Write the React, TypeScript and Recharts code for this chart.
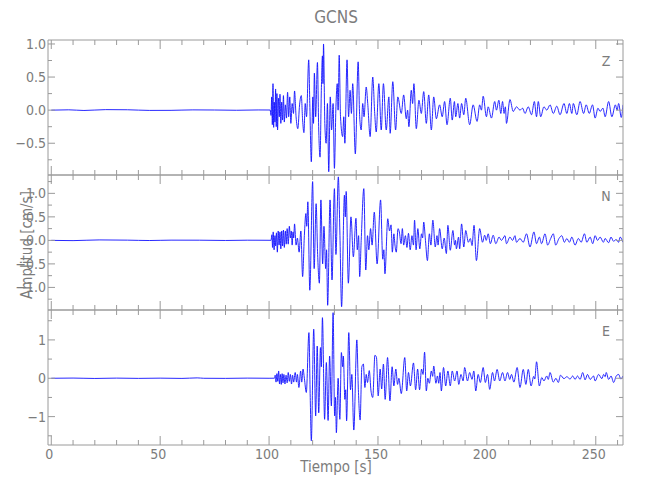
import { LineChart, Line, XAxis, YAxis } from 'recharts';

const AXIS = '#9a9a9a';
const TEXT = '#7c7c7c';
const TRACE = '#1010ff';
const FONT = "'Liberation Sans Narrow', 'DejaVu Sans Condensed', 'Liberation Sans', sans-serif";

// time axis, seconds
const timeDomain: [number, number] = [-1.5, 262.5];
const timeTicks = [0, 10, 20, 30, 40, 50, 60, 70, 80, 90, 100, 110, 120, 130, 140, 150, 160, 170, 180, 190, 200, 210, 220, 230, 240, 250, 260];

// amplitude ticks per component
const zTicks = [-0.75, -0.5, -0.25, 0, 0.25, 0.5, 0.75, 1.0];
const nTicks = [-1.25, -1.0, -0.75, -0.5, -0.25, 0, 0.25, 0.5, 0.75, 1.0, 1.25];
const eTicks = [-1.5, -1.0, -0.5, 0, 0.5, 1.0, 1.5];

// [tiempo s, amplitud cm/s]
const zTrace: [number, number][] = [
  [0, 0], [8, 0.005], [15, -0.005], [25, 0.008], [35, 0.006], [45, -0.004], [55, -0.003], [65, 0.004], [75, 0.002], [85, -0.002], [95, 0.003], [100.5, 0.002],
  [100.9, -0.08], [101.2, 0.2], [101.5, -0.22], [101.8, 0.4], [102.1, -0.26], [102.4, 0.12], [102.7, -0.18], [103.0, 0.32], [103.3, -0.25], [103.6, 0.25], [103.9, -0.3], [104.3, 0.18], [104.7, -0.1], [105.0, 0.24], [105.4, -0.2], [105.8, 0.12], [106.2, -0.15], [106.6, 0.22], [107.0, -0.18], [107.5, 0.08], [108.0, -0.12], [108.5, 0.27], [109.0, -0.1], [109.5, 0.2], [110.0, -0.2], [110.6, 0.1], [111.2, -0.05], [111.7, 0.29], [112.4, -0.1], [113.2, -0.28], [114.0, 0.08], [114.8, 0.22], [115.4, -0.15], [116.0, -0.34], [116.6, 0.1], [117.2, -0.1],
  [118.2, 0.76], [118.7, 0.1], [119.4, -0.78], [120.1, 0.2], [120.4, -0.2], [120.8, 0.56], [121.4, -0.1], [122.2, 0.72], [122.8, -0.3], [123.4, -0.71], [124.0, 0.3], [124.5, 0.82], [124.75, 0.4], [125.0, 1.0], [125.6, -0.2], [126.2, -0.5], [126.8, 0.1], [127.4, -0.93], [128.1, 0.2], [128.7, -0.3], [129.4, 0.1], [130.0, -0.88], [130.7, 0.05], [131.3, 0.4], [131.7, 0.0], [132.2, 0.83], [132.8, -0.1], [133.8, -0.4], [134.3, -0.1], [134.8, -0.5], [135.8, 0.76], [136.5, -0.1], [137.2, 0.3], [137.8, -0.05], [138.4, 0.4], [139.6, -0.66], [140.9, 0.73], [141.6, -0.1], [142.3, -0.3], [143.0, 0.1], [143.6, -0.1], [144.6, 0.35], [145.3, 0.1], [146.4, -0.4], [147.6, 0.5], [148.5, -0.05], [149.2, -0.33], [150.4, 0.4], [151.5, -0.3], [152.5, 0.4], [153.8, -0.3], [155.0, 0.2], [155.6, -0.35], [156.8, 0.43], [158.1, -0.3], [159.1, 0.2], [160.7, -0.05], [161.8, 0.23], [163.0, -0.13], [163.6, 0.0], [164.2, -0.25], [165.3, 0.3], [165.9, 0.1], [166.5, 0.4], [167.6, -0.28], [168.8, 0.15], [169.9, -0.05], [171.0, 0.28], [172.2, -0.2], [173.3, 0.23], [174.5, -0.3], [175.6, 0.2], [176.8, -0.13],
  [178.3, 0.08], [179.5, -0.1], [180.6, 0.13], [181.7, -0.22], [183.2, 0.18], [184.1, -0.15], [185.1, 0.13], [185.7, -0.1], [186.7, 0.1], [187.5, -0.12], [188.4, 0.1], [189.4, -0.07], [190.3, 0.18], [192.1, -0.22], [193.7, 0.08], [195.5, -0.17], [196.7, 0.08], [197.5, 0.0], [198.3, 0.21], [199.8, -0.1], [200.6, 0.05], [202.1, -0.12], [203.6, 0.13], [204.4, 0.0], [205.5, 0.15], [206.4, -0.05], [207.2, 0.13], [207.9, -0.05], [208.5, 0.05], [209.0, -0.2], [210.6, 0.16], [212.1, -0.02], [213.6, 0.05], [215.2, 0.0], [216.4, 0.03], [217.5, -0.05], [219.0, 0.05], [220.5, -0.07], [221.8, 0.13], [222.8, -0.1], [223.6, 0.13], [224.7, -0.1], [226.2, 0.05], [227.5, 0.0], [229.0, 0.08], [230.5, -0.05], [232.1, 0.06], [233.6, -0.07], [235.4, 0.1], [236.7, -0.05], [237.9, 0.1], [239.0, -0.05], [239.7, 0.1], [241.3, -0.07], [242.8, 0.13], [244.4, -0.05], [245.6, 0.08], [247.0, -0.05], [248.5, 0.08], [249.7, -0.12], [251.0, 0.03], [252.0, -0.02], [253.3, 0.03], [254.3, -0.1], [255.9, 0.13], [257.4, -0.1], [259.0, 0.08], [259.8, 0.0], [260.5, 0.1], [261.7, -0.11], [262.5, 0.08],
];

const nTrace: [number, number][] = [
  [0, 0], [10, -0.005], [22, 0.01], [35, 0.005], [45, -0.003], [55, 0.005], [68, 0.004], [80, -0.002], [90, 0.004], [100.5, 0.002],
  [100.9, 0.0], [101.3, 0.12], [101.6, -0.15], [101.9, 0.18], [102.3, -0.2], [102.7, 0.1], [103.0, -0.12], [103.4, 0.16], [103.8, -0.25], [104.2, 0.2], [104.6, -0.1], [105.0, 0.18], [105.4, -0.18], [105.8, 0.2], [106.2, -0.12], [106.6, 0.22], [107.0, -0.15], [107.5, 0.2], [107.9, -0.08], [108.3, 0.25], [108.8, -0.08], [109.3, 0.3], [109.8, 0.05], [110.2, 0.2], [110.6, -0.1], [111.0, 0.18], [111.3, 0.05], [111.7, 0.35], [112.4, -0.1], [113.0, 0.05], [113.8, -0.25], [114.6, 0.2],
  [115.4, -0.77], [116.2, 0.1], [116.9, 0.57], [117.3, 0.3], [117.8, 0.82], [118.7, -1.06], [120.0, 1.25], [120.7, -0.6], [121.6, 0.78], [122.3, -0.3], [123.1, -0.91], [123.8, 0.86], [124.6, -0.5], [125.2, 0.3], [126.0, -0.6], [126.4, -0.2], [126.9, -1.38], [128.0, 0.86], [128.9, -0.84], [130.0, 1.1], [130.7, -0.3], [131.8, 1.35], [132.5, 0.2], [133.3, -1.41], [134.6, 0.96], [135.0, 0.5], [135.4, 1.04], [136.4, -0.91], [137.6, 0.5], [138.7, -0.35], [139.9, 0.47], [140.5, -0.2], [141.1, 0.1], [141.6, -0.77], [142.3, 0.0], [143.5, 1.1], [144.4, -0.63], [145.2, 0.1], [145.8, -0.2], [146.6, 0.25], [147.3, -0.1], [148.3, 0.6], [149.6, -0.5], [151.2, 0.86], [152.2, -0.4], [152.7, -0.2], [153.2, -0.71], [154.5, 0.46], [155.3, 0.2], [156.0, 0.33], [156.6, -0.25], [157.3, 0.14], [157.8, -0.1], [158.4, -0.25], [159.2, 0.25], [159.8, 0.18], [160.6, -0.07], [161.2, 0.25], [161.8, -0.1], [162.6, 0.1], [163.3, -0.15], [164.0, 0.15], [164.8, -0.2], [165.6, 0.1], [166.3, -0.1], [166.8, 0.43], [167.5, -0.2], [168.3, 0.25], [169.2, -0.18], [170.0, 0.14], [170.5, 0.05], [171.0, 0.39], [171.8, 0.0], [172.7, -0.43], [173.6, 0.14], [174.3, -0.1], [175.2, 0.43], [176.3, -0.14], [177.1, 0.1], [177.6, -0.1],
  [178.3, 0.25], [179.5, -0.18], [180.4, 0.05], [181.4, -0.28], [182.1, 0.32], [183.2, -0.21], [184.4, 0.21], [185.2, -0.1], [185.6, 0.0], [186.0, -0.18], [187.0, 0.07], [187.5, -0.18], [188.4, 0.35], [189.4, -0.14], [190.3, 0.21], [191.5, -0.04], [192.4, 0.04], [193.2, -0.11], [194.1, 0.32], [195.2, -0.43], [196.7, 0.25], [198.0, -0.04], [199.0, 0.11], [199.7, 0.0], [200.6, 0.14], [201.6, -0.07], [202.9, 0.11], [204.1, -0.07], [205.6, 0.07], [206.7, 0.0], [208.3, 0.1], [209.0, -0.07], [210.6, 0.07], [211.8, 0.0], [212.9, 0.1], [213.6, -0.04], [215.2, 0.04], [216.7, -0.04], [218.2, 0.14], [219.8, -0.14], [221.6, 0.18], [222.8, -0.07], [224.1, 0.07], [225.1, -0.07], [226.7, 0.14], [227.9, -0.1], [229.3, 0.04], [230.5, 0.14], [231.6, -0.1], [233.1, 0.04], [234.4, 0.1], [235.6, -0.04], [236.7, 0.04], [237.9, -0.04], [239.0, 0.07], [240.5, -0.1], [242.0, 0.04], [243.3, -0.04], [244.8, 0.14], [245.9, -0.04], [247.4, 0.07], [248.6, -0.07], [249.7, 0.1], [250.8, 0.0], [252.0, 0.07], [253.5, -0.04], [254.3, 0.04], [255.9, -0.05], [257.0, 0.07], [258.2, -0.02], [259.3, 0.02], [260.5, -0.04], [261.2, 0.07], [262.5, -0.04],
];

const eTrace: [number, number][] = [
  [0, 0], [10, 0.005], [20, -0.005], [30, 0.004], [40, -0.003], [50, 0.003], [60, -0.004], [67, 0.01], [70, 0], [80, -0.003], [90, 0.004], [100, 0], [102.5, 0.002],
  [102.8, 0.08], [103.2, -0.1], [103.6, 0.12], [104.0, -0.08], [104.4, 0.19], [104.8, -0.15], [105.2, 0.1], [105.6, -0.16], [106.0, 0.12], [106.4, -0.12], [106.8, 0.1], [107.3, -0.15], [107.8, 0.08], [108.3, -0.12], [108.8, 0.15], [109.3, -0.08], [109.8, 0.1], [110.3, -0.15], [110.8, 0.08], [111.3, -0.1], [112.0, 0.15], [112.6, -0.1], [113.0, 0.1], [113.7, -0.24], [114.5, 0.19], [115.0, -0.1], [115.6, 0.24], [116.2, 0.0], [117.1, -0.37],
  [118.3, 1.19], [118.9, -0.5], [119.4, -1.63], [120.5, 1.28], [121.4, -0.98], [122.1, 0.84], [122.8, -0.9], [123.6, 0.8], [124.0, 0.3], [124.5, 1.58], [125.5, -1.07], [126.3, 0.41], [127.1, -1.1], [127.8, 0.58], [128.6, -0.72], [129.4, 1.71], [130.1, -0.98], [130.5, -0.5], [130.9, -1.42], [131.7, 0.0], [132.5, -1.07], [133.2, 0.67], [133.8, 0.3], [134.1, 0.58], [134.8, -0.55], [135.2, -0.3], [135.6, -1.11], [136.6, 1.19], [137.4, -0.3], [138.0, 0.1], [138.9, -1.35], [140.3, 1.0], [141.0, -0.3], [141.8, -1.09], [142.6, 0.3], [143.3, 0.37], [144.0, -0.24], [144.6, 0.1], [145.2, -0.11], [146.0, 0.2], [146.8, -0.33], [147.6, -0.5], [148.6, 0.6], [149.3, 0.55], [150.1, -0.46], [151.0, 0.24], [151.7, -0.28], [152.5, 0.37], [153.3, -0.55], [154.4, 0.54], [155.5, -0.59], [156.5, 0.3], [157.3, -0.2], [158.2, 0.24], [159.0, -0.16], [159.6, 0.0], [160.7, -0.4], [162.3, 0.54], [163.2, -0.33], [164.0, 0.15], [164.9, -0.2], [166.3, 0.4], [167.3, -0.3], [168.2, 0.24], [169.1, -0.3], [170.0, 0.24], [170.7, 0.1], [171.4, 0.68], [172.2, -0.33], [172.9, 0.0], [173.6, -0.13], [174.5, 0.19], [175.1, 0.05], [175.6, 0.32], [176.6, -0.13], [177.3, 0.06], [177.9, -0.13],
  [178.5, 0.15], [179.1, -0.33], [180.1, 0.28], [181.1, -0.2], [182.1, 0.19], [183.2, -0.2], [184.1, 0.19], [185.2, -0.07], [186.3, 0.19], [187.1, -0.16], [188.1, 0.1], [189.1, -0.07], [189.8, 0.28], [191.1, -0.07], [192.1, 0.15], [193.2, -0.03], [194.0, 0.19], [194.9, -0.33], [196.0, 0.1], [197.0, -0.11], [198.3, 0.28], [199.3, -0.11], [200.3, 0.1], [201.3, -0.29], [202.6, 0.15], [203.5, -0.07], [204.7, 0.23], [205.9, -0.07], [207.2, 0.15], [208.3, -0.07], [209.5, 0.15], [210.5, -0.03], [211.3, 0.1], [212.4, -0.1], [213.9, 0.28], [215.2, -0.24], [216.7, 0.23], [217.9, -0.16], [219.0, 0.23], [220.3, -0.2], [221.5, 0.05], [222.0, -0.02], [222.8, 0.43], [224.1, -0.2], [225.2, 0.02], [226.2, -0.07], [227.5, 0.06], [228.2, -0.03], [229.0, 0.15], [230.5, -0.1], [231.7, 0.0], [232.8, -0.11], [233.8, 0.08], [235.4, -0.01], [236.7, 0.04], [238.2, -0.02], [239.4, 0.06], [240.5, -0.03], [241.6, 0.06], [242.8, -0.03], [244.0, 0.15], [245.1, -0.04], [246.2, 0.1], [247.4, -0.03], [249.0, 0.06], [249.7, -0.07], [251.3, 0.1], [252.8, -0.01], [253.6, 0.1], [254.3, 0.04], [254.8, 0.15], [255.9, -0.03], [257.0, 0.06], [258.2, -0.11], [259.4, 0.06], [260.5, 0.1], [261.5, -0.02], [262.5, 0.06],
];

const panels = [
  { name: 'Z', trace: zTrace, domain: [-0.98, 1.06], ticks: zTicks, major: 0.5, digits: 1, top: 40, bottom: 175 },
  { name: 'N', trace: nTrace, domain: [-1.48, 1.39], ticks: nTicks, major: 0.5, digits: 1, top: 175, bottom: 310 },
  { name: 'E', trace: eTrace, domain: [-1.74, 1.78], ticks: eTicks, major: 1, digits: 0, top: 310, bottom: 445 },
];

const onStep = (v: number, step: number) => Math.abs(v / step - Math.round(v / step)) < 1e-6;

const fmt = (v: number, digits: number) => v.toFixed(digits).replace('-', '\u2212');

function timeTick(dir: number, withLabel: boolean) {
  return (props: any) => {
    const { x, y, payload } = props;
    const major = onStep(payload.value, 50);
    return (
      <g>
        <line x1={x} y1={y} x2={x} y2={y + dir * (major ? 9 : 5)} stroke={AXIS} />
        {withLabel && major && (
          <text x={x - 2} y={y + 14} textAnchor='middle' fill={TEXT} fontSize={14} fontFamily={FONT}>
            {payload.value}
          </text>
        )}
      </g>
    );
  };
}

function ampTick(dir: number, major: number, digits: number, withLabel: boolean) {
  return (props: any) => {
    const { x, y, payload } = props;
    const isMajor = onStep(payload.value, major);
    return (
      <g>
        <line x1={x} y1={y} x2={x + dir * (isMajor ? 7 : 4)} y2={y} stroke={AXIS} />
        {withLabel && isMajor && (
          <text x={x - 2} y={y + 5} textAnchor='end' fill={TEXT} fontSize={14} fontFamily={FONT}>
            {fmt(payload.value, digits)}
          </text>
        )}
      </g>
    );
  };
}

export default function App() {
  return (
    <div style={{ position: 'absolute', left: 0, top: 0, width: 650, height: 500, background: '#fff' }}>
      {panels.map((p, i) => {
        const rows = p.trace.map(([t, v]) => ({ t, v }));
        const last = i === panels.length - 1;
        return (
          <div key={p.name} style={{ position: 'absolute', left: 0, top: 0 }}>
            <LineChart
              width={650}
              height={500}
              data={rows}
              margin={{ top: p.top - 1, right: 26, bottom: 500 - p.bottom - 1, left: 47 }}
            >
              <XAxis xAxisId='b' dataKey='t' type='number' orientation='bottom' domain={timeDomain} ticks={timeTicks} interval={0} allowDataOverflow height={1} tickSize={0} tickMargin={0} tickLine={false} axisLine={{ stroke: AXIS }} tick={timeTick(-1, last)} />
              <XAxis xAxisId='t' dataKey='t' type='number' orientation='top' domain={timeDomain} ticks={timeTicks} interval={0} allowDataOverflow height={1} tickSize={0} tickMargin={0} tickLine={false} axisLine={{ stroke: AXIS }} tick={timeTick(1, false)} />
              <YAxis yAxisId='l' type='number' orientation='left' domain={p.domain} ticks={p.ticks} interval={0} allowDataOverflow width={1} tickSize={0} tickMargin={0} tickLine={false} axisLine={{ stroke: AXIS }} tick={ampTick(1, p.major, p.digits, true)} />
              <YAxis yAxisId='r' type='number' orientation='right' domain={p.domain} ticks={p.ticks} interval={0} allowDataOverflow width={1} tickSize={0} tickMargin={0} tickLine={false} axisLine={{ stroke: AXIS }} tick={ampTick(-1, p.major, p.digits, false)} />
              <Line xAxisId='b' yAxisId='l' type='monotone' dataKey='v' stroke={TRACE} strokeWidth={0.9} dot={false} isAnimationActive={false} />
            </LineChart>
          </div>
        );
      })}
      <svg width={650} height={500} style={{ position: 'absolute', left: 0, top: 0, pointerEvents: 'none' }}>
        <text x={336} y={23} textAnchor='middle' fill={TEXT} fontSize={17} fontFamily={FONT}>GCNS</text>
        {panels.map((p) => (
          <text key={p.name} x={606} y={p.top + 26} textAnchor='middle' fill={TEXT} fontSize={14} fontFamily={FONT}>{p.name}</text>
        ))}
        <text x={336} y={472} textAnchor='middle' fill={TEXT} fontSize={15} fontFamily={FONT}>Tiempo  [s]</text>
        <text x={32} y={245} textAnchor='middle' fill={TEXT} fontSize={15} fontFamily={FONT} transform='rotate(-90 32 245)'>Amplitud [cm/s]</text>
      </svg>
    </div>
  );
}
